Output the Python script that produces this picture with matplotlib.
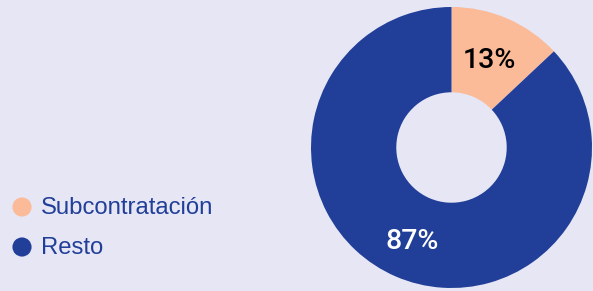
import matplotlib
matplotlib.use("Agg")
import matplotlib.pyplot as plt

labels = ["Subcontratación", "Resto"]
values = [13, 87]
pct_text = ["13%", "87%"]
colors = ["#fbba98", "#213f99"]
bg = "#e6e6f4"

W, H = 593, 291
fig = plt.figure(figsize=(W / 100, H / 100), dpi=100)
fig.patch.set_facecolor(bg)

# donut (center / radius in pixels, measured from top-left)
cx, cy, r = 451.5, 147.5, 140.5
ax = fig.add_axes([(cx - r) / W, (H - cy - r) / H, 2 * r / W, 2 * r / H])
ax.set_facecolor(bg)
ax.pie(values, colors=colors, startangle=90, counterclock=False, radius=1,
       wedgeprops=dict(width=0.607, linewidth=0))
ax.set_xlim(-1, 1)
ax.set_ylim(-1, 1)
ax.set_aspect("equal")
ax.axis("off")

num_font = ["Roboto", "DejaVu Sans"]
ax.text(0.27, 0.62, pct_text[0], ha="center", va="center", fontsize=20.5,
        fontweight="medium", color="black", family=num_font)
ax.text(-0.28, -0.67, pct_text[1], ha="center", va="center", fontsize=20.5,
        fontweight="medium", color="white", family=num_font)

# legend
lax = fig.add_axes([0, 0, 1, 1])
lax.set_xlim(0, W)
lax.set_ylim(H, 0)
lax.axis("off")
for i, (lab, col) in enumerate(zip(labels, colors)):
    y = 208 + 40 * i
    lax.scatter([22], [y - 1], s=190, color=col, edgecolors="none")
    lax.text(41, y, lab, va="center", ha="left", fontsize=17.2,
             color="#213f99", family=["Liberation Sans", "DejaVu Sans"])

fig.savefig("out.png", dpi=100, facecolor=bg)
